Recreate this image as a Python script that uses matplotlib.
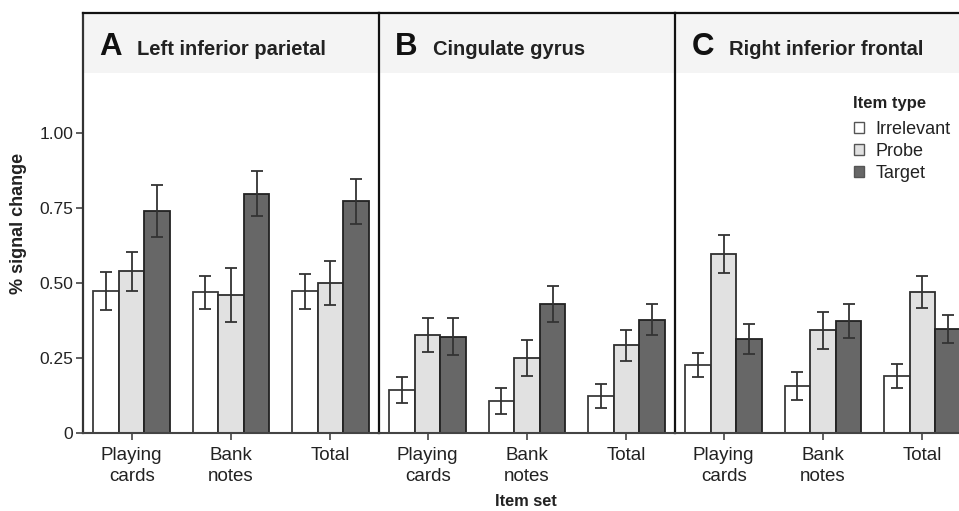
import matplotlib
matplotlib.use("Agg")
import matplotlib.pyplot as plt
import numpy as np
from matplotlib.patches import Patch

plt.rcParams['font.family'] = ['Liberation Sans', 'DejaVu Sans']

# ---- data -------------------------------------------------------------
item_sets = ["Playing\ncards", "Bank\nnotes", "Total"]
item_types = ["Irrelevant", "Probe", "Target"]
panel_letters = ["A", "B", "C"]
panel_titles = ["Left inferior parietal", "Cingulate gyrus", "Right inferior frontal"]

# mean % signal change, rows = item set, cols = item type
lip_mean = [[0.474, 0.539, 0.741],
            [0.469, 0.459, 0.797],
            [0.472, 0.499, 0.772]]
lip_err = [[0.064, 0.066, 0.086],
           [0.055, 0.090, 0.075],
           [0.058, 0.073, 0.075]]

cg_mean = [[0.143, 0.326, 0.321],
           [0.106, 0.250, 0.430],
           [0.123, 0.292, 0.378]]
cg_err = [[0.044, 0.056, 0.062],
          [0.044, 0.060, 0.060],
          [0.040, 0.053, 0.051]]

rif_mean = [[0.226, 0.597, 0.314],
            [0.157, 0.343, 0.374],
            [0.191, 0.470, 0.346]]
rif_err = [[0.040, 0.063, 0.051],
           [0.048, 0.062, 0.057],
           [0.040, 0.053, 0.046]]

y_ticks = [0, 0.25, 0.50, 0.75, 1.00]
y_ticklabels = ["0", "0.25", "0.50", "0.75", "1.00"]

means = [lip_mean, cg_mean, rif_mean]
errs = [lip_err, cg_err, rif_err]

# ---- style --------------------------------------------------------------
fill_colors = ["#ffffff", "#e1e1e1", "#676767"]
edge_colors = ["#3a3a3a", "#2e2e2e", "#222222"]
bar_w = 0.257

W, H = 959, 511
fig = plt.figure(figsize=(W / 100, H / 100), dpi=100)

left_px, panel_w, top_px, base_px = 83, 296, 13, 433
axes = []
for i in range(3):
    ax = fig.add_axes([(left_px + i * panel_w) / W, (H - base_px) / H,
                       panel_w / W, (base_px - top_px) / H])
    axes.append(ax)

x = np.arange(len(item_sets))
for i, ax in enumerate(axes):
    m = np.array(means[i])
    e = np.array(errs[i])
    ax.axhspan(1.2, 1.4, color="#f4f4f4", zorder=0, lw=0)
    for j in range(len(item_types)):
        xs = x + (j - 1) * bar_w
        ax.bar(xs, m[:, j], width=bar_w, color=fill_colors[j],
               edgecolor=edge_colors[j], linewidth=1.3, zorder=2,
               label=item_types[j])
        ax.errorbar(xs, m[:, j], yerr=e[:, j], fmt="none", ecolor="#333333",
                    elinewidth=1.3, capsize=4.5, capthick=1.3, zorder=3)
    ax.set_xlim(-0.49, 2.49)
    ax.set_ylim(0, 1.4)
    ax.set_xticks(x)
    ax.set_xticklabels(item_sets, fontsize=13.5, color="#222222", linespacing=1.3)
    ax.tick_params(axis="x", length=5, width=1.2, color="#444444", pad=5)
    for s in ["top", "left"]:
        ax.spines[s].set_color("#111111")
        ax.spines[s].set_linewidth(1.6)
    ax.spines["right"].set_visible(False)
    ax.spines["bottom"].set_color("#444444")
    ax.spines["bottom"].set_linewidth(1.5)
    if i == 0:
        ax.set_yticks(y_ticks)
        ax.set_yticklabels(y_ticklabels, fontsize=12.5, color="#222222")
        ax.tick_params(axis="y", length=5, width=1.2, color="#444444", pad=2)
        ax.spines["left"].set_color("#333333")
    else:
        ax.set_yticks([])
    ax.text(0.055, 0.9, panel_letters[i], transform=ax.transAxes,
            fontsize=22.5, fontweight="bold", va="baseline", ha="left", color="#111111")
    ax.text(0.183, 0.9, panel_titles[i], transform=ax.transAxes,
            fontsize=14.5, fontweight="bold", va="baseline", ha="left", color="#222222")

# legend: bold heading plus one swatch row per item type
leg_ax = axes[2]
leg_ax.text((853 - 675) / panel_w, (433 - 103) / 420, "Item type", transform=leg_ax.transAxes,
            fontsize=12, fontweight="bold", ha="left", va="center", color="#222222")
handles = [Patch(facecolor=fill_colors[j], edgecolor="#555555", linewidth=1.0,
                 label=item_types[j]) for j in range(3)]
leg = leg_ax.legend(handles=handles, loc="upper left",
                    bbox_to_anchor=((854 - 675) / panel_w, (433 - 121) / 420),
                    frameon=False, fontsize=13, handlelength=0.55, handleheight=0.55,
                    handletextpad=0.65, labelspacing=0.28, borderaxespad=0,
                    borderpad=0)
for t in leg.get_texts():
    t.set_color("#222222")

fig.text(19 / W, 1 - 223 / H, "% signal change", rotation=90, fontsize=13,
         fontweight="bold", ha="center", va="center", color="#222222")
fig.text(526 / W, 1 - 502 / H, "Item set", fontsize=11.8, fontweight="bold",
         ha="center", va="center", color="#222222")

fig.savefig("out.png", dpi=100)
